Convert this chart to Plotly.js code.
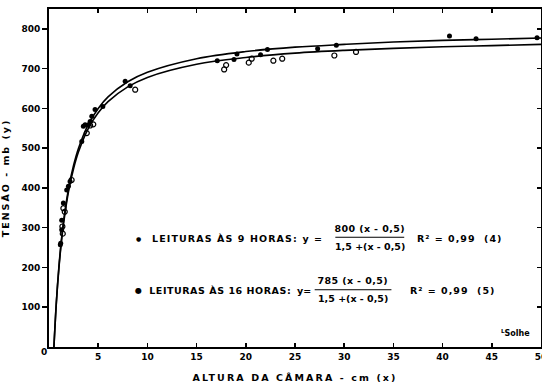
<!DOCTYPE html>
<html>
<head>
<meta charset="utf-8">
<script src="https://cdn.plot.ly/plotly-3.0.1.min.js"></script>
<style>html,body{margin:0;padding:0;background:#fff;}</style>
</head>
<body>
<div id="chart" style="width:542px;height:384px;"></div>
<script>
// Fitted curves
var curveX  = [0.5, 0.75, 1, 1.25, 1.5, 2, 2.5, 3, 4, 5, 6, 8, 10, 15, 20, 25, 30, 35, 40, 45, 50];
var curve9  = [0, 114, 200, 267, 320, 400, 457, 500, 560, 600, 629, 667, 691, 725, 743, 754, 761, 767, 771, 774, 777];
var curve16 = [0, 112, 196, 262, 314, 393, 449, 491, 550, 589, 617, 654, 678, 711, 728, 739, 746, 751, 755, 758, 761];

// Readings at 9 h (filled) and 16 h (open)
var x9 = [1.15, 1.19, 1.29, 1.29, 1.46, 1.8, 1.97, 2.14, 3.33, 3.49, 3.67, 4.0, 4.18, 4.35, 4.68, 5.47, 7.74, 8.25, 17.1, 18.8, 19.1, 21.5, 22.2, 27.3, 29.2, 40.7, 43.4, 49.6];
var y9 = [257, 261, 295, 319, 362, 395, 404, 416, 517, 555, 559, 559, 567, 580, 597, 605, 668, 657, 720, 723, 737, 735, 748, 750, 759, 782, 775, 778];
var x16 = [1.36, 1.4, 1.46, 1.6, 2.3, 3.84, 4.18, 4.5, 8.76, 17.8, 18.0, 20.3, 20.6, 22.8, 23.7, 29.0, 31.2];
var y16 = [303, 285, 349, 340, 420, 538, 557, 560, 647, 698, 709, 715, 725, 720, 725, 733, 742];

var xTicks = [5, 10, 15, 20, 25, 30, 35, 40, 45, 50];
var yTicks = [100, 200, 300, 400, 500, 600, 700, 800];

var FONT = 'DejaVu Sans';
var txt = function(size){ return {family: FONT, size: size, color: '#000', weight: 'bold'}; };

var traces = [
  {x: curveX, y: curve9, mode: 'lines', line: {color: '#000', width: 1.6, shape: 'spline'}, hoverinfo: 'skip'},
  {x: curveX, y: curve16, mode: 'lines', line: {color: '#000', width: 1.6, shape: 'spline'}, hoverinfo: 'skip'},
  {x: x9, y: y9, mode: 'markers', marker: {symbol: 'circle', size: 5, color: '#000'}},
  {x: x16, y: y16, mode: 'markers', marker: {symbol: 'circle-open', size: 5, color: '#000', line: {width: 1.2, color: '#000'}}},
  {x: [0], y: [0], yaxis: 'y2', mode: 'markers', marker: {size: 1, opacity: 0}}
];

function ann(x, y, text, size, sp){
  return {x: x, y: y, xref: 'x', yref: 'y', text: text, showarrow: false,
          xanchor: 'center', yanchor: 'middle', font: txt(size), _sp: sp};
}

var annotations = [
  ann(9.06, 274, '●', 6, 0),
  ann(17.85, 274, 'LEITURAS ÀS 9 HORAS:', 9.5, 1.1),
  ann(26.8, 274, 'y =', 9.5, 1),
  ann(32.6, 298, '800 (x - 0,5)', 9.5, 0.4),
  ann(32.6, 252, '1,5 +(x - 0,5)', 9.5, 0),
  ann(41.75, 274, 'R² = 0,99  (4)', 9.5, 1),
  ann(9.06, 143, '●', 8, 0),
  ann(17.4, 143, 'LEITURAS ÀS 16 HORAS:', 9.5, 0.55),
  ann(25.9, 143, 'y=', 9.5, 0),
  ann(30.86, 166, '785 (x - 0,5)', 9.5, 0.4),
  ann(30.86, 121, '1,5 +(x - 0,5)', 9.5, 0),
  ann(41.05, 143, 'R² = 0,99  (5)', 9.5, 1),
  ann(47.45, 36, '<sup>L</sup>Solhe', 8, 0),
  {x: -0.011, y: -0.015, xref: 'paper', yref: 'paper', text: '0', showarrow: false,
   xanchor: 'center', yanchor: 'middle', font: txt(9), _sp: 0}
];

var shapes = [
  {type: 'line', xref: 'x', yref: 'y', x0: 29.1, x1: 36.1, y0: 276, y1: 276, line: {color: '#000', width: 1}},
  {type: 'line', xref: 'x', yref: 'y', x0: 27.0, x1: 34.8, y0: 144, y1: 144, line: {color: '#000', width: 1}}
];

var spacing = annotations.map(function(a){ var s = a._sp; delete a._sp; return s; });

var layout = {
  width: 542, height: 384,
  margin: {l: 49, r: 1, t: 9, b: 37},
  paper_bgcolor: '#fff', plot_bgcolor: '#fff',
  showlegend: false,
  font: {family: FONT, color: '#000'},
  xaxis: {
    range: [0, 50], tickvals: xTicks, ticks: 'inside', ticklen: 4, tickwidth: 1.5, tickcolor: '#000',
    showline: true, linewidth: 2, linecolor: '#000', mirror: 'ticks', showgrid: false, zeroline: false,
    tickfont: txt(9), ticklabeloverflow: 'allow',
    title: {text: 'ALTURA DA CÂMARA - cm (x)', font: txt(9.5), standoff: 14}
  },
  yaxis: {
    range: [0, 850], tickvals: yTicks, ticks: 'outside', ticklen: 5, tickwidth: 1.5, tickcolor: '#000',
    showline: true, linewidth: 2, linecolor: '#000', mirror: true, showgrid: false, zeroline: false,
    tickfont: txt(9),
    title: {text: 'TENSÃO - mb (y)', font: txt(9.5), standoff: 10}
  },
  yaxis2: {
    overlaying: 'y', side: 'right', range: [0, 850], tickvals: yTicks, ticks: 'inside', ticklen: 4,
    tickwidth: 1.5, tickcolor: '#000', showticklabels: false, showline: false, showgrid: false, zeroline: false
  },
  annotations: annotations,
  shapes: shapes
};

Plotly.newPlot('chart', traces, layout, {staticPlot: true, displayModeBar: false}).then(function(){
  document.querySelectorAll('.xtitle').forEach(function(el){ el.style.letterSpacing = '2.1px'; });
  document.querySelectorAll('.ytitle').forEach(function(el){ el.style.letterSpacing = '2px'; });
  document.querySelectorAll('.annotation').forEach(function(g){
    var i = +g.getAttribute('data-index');
    var t = g.querySelector('.annotation-text');
    if (t && spacing[i]) t.style.letterSpacing = spacing[i] + 'px';
  });
});
</script>
</body>
</html>
